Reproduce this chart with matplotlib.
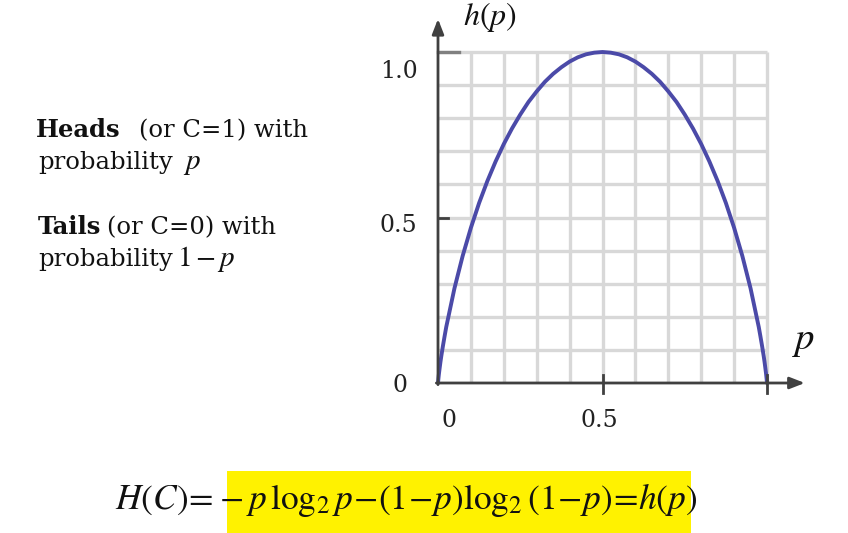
import numpy as np
import matplotlib
matplotlib.use("Agg")
import matplotlib.pyplot as plt
from matplotlib.patches import Rectangle

# ==========================================================
# DATA
# ==========================================================

p_vals = [0.0, 0.001, 0.0025, 0.005, 0.0075, 0.01, 0.015, 0.02, 0.025,
          0.05, 0.075, 0.1, 0.125, 0.15, 0.175, 0.2, 0.225, 0.25, 0.275,
          0.3, 0.325, 0.35, 0.375, 0.4, 0.425, 0.45, 0.475, 0.5,
          0.525, 0.55, 0.575, 0.6, 0.625, 0.65, 0.675, 0.7, 0.725,
          0.75, 0.775, 0.8, 0.825, 0.85, 0.875, 0.9, 0.925, 0.95,
          0.975, 0.98, 0.985, 0.99, 0.9925, 0.995, 0.9975, 0.999, 1.0]
h_vals = [0.0, 0.011, 0.025, 0.045, 0.064, 0.081, 0.112, 0.141, 0.169,
          0.286, 0.384, 0.469, 0.544, 0.610, 0.669, 0.722, 0.769, 0.811, 0.849,
          0.881, 0.910, 0.934, 0.954, 0.971, 0.984, 0.993, 0.998, 1.0,
          0.998, 0.993, 0.984, 0.971, 0.954, 0.934, 0.910, 0.881, 0.849,
          0.811, 0.769, 0.722, 0.669, 0.610, 0.544, 0.469, 0.384, 0.286,
          0.169, 0.141, 0.112, 0.081, 0.064, 0.045, 0.025, 0.011, 0.0]

grid_steps = [0.1, 0.2, 0.3, 0.4, 0.5, 0.6, 0.7, 0.8, 0.9, 1.0]

W, H = 848, 533
X0, X1 = 438, 767   # pixel x of p=0, p=1
Y0, Y1 = 383, 52    # pixel y of h=0, h=1

SERIF = "DejaVu Serif"
plt.rcParams["mathtext.fontset"] = "stix"

def fx(px):
    return px / W

def fy(py):
    return 1 - py / H

# ==========================================================
# FIGURE
# ==========================================================

fig = plt.figure(figsize=(W / 100, H / 100), dpi=100)
fig.patch.set_facecolor("white")
renderer = fig.canvas.get_renderer()

ax = fig.add_axes([fx(X0), fy(Y0), (X1 - X0) / W, (Y0 - Y1) / H])
ax.set_xlim(0, 1)
ax.set_ylim(0, 1)
ax.axis("off")

# grid
for g in grid_steps:
    ax.plot([g, g], [0, 1], color="#d8d8d8", lw=2.4, zorder=1,
            clip_on=False, solid_capstyle="butt")
    ax.plot([0, 1], [g, g], color="#d8d8d8", lw=2.4, zorder=1,
            clip_on=False, solid_capstyle="butt")

# curve
ax.plot(p_vals, h_vals, color="#4b4aa8", lw=2.8, zorder=4,
        clip_on=False, solid_capstyle="round", solid_joinstyle="round")

# axes with arrows
arrow = dict(arrowstyle="-|>,head_length=0.9,head_width=0.35",
             color="#404040", lw=2.0, shrinkA=0, shrinkB=0)
ax.annotate("", xy=(0, 1.1), xytext=(0, -0.005), arrowprops=arrow,
            zorder=5, annotation_clip=False)
ax.annotate("", xy=(1.115, 0), xytext=(-0.005, 0), arrowprops=arrow,
            zorder=5, annotation_clip=False)

# ticks
ax.plot([0, 0.065], [1, 1], color="#808080", lw=2.4, zorder=3, clip_on=False)
ax.plot([0, 0.03], [0.5, 0.5], color="#404040", lw=2.0, zorder=5, clip_on=False)
for t in [0.5, 1.0]:
    ax.plot([t, t], [-0.03, 0.025], color="#404040", lw=2.0, zorder=5,
            clip_on=False)

# tick labels
tick_kw = dict(fontsize=17, family=SERIF, color="#222222",
               ha="center", va="center")
ax.text(-0.12, 0.94, "1.0", **tick_kw)
ax.text(-0.12, 0.477, "0.5", **tick_kw)
ax.text(-0.115, -0.009, "0", **tick_kw)
ax.text(0.033, -0.112, "0", **tick_kw)
ax.text(0.49, -0.112, "0.5", **tick_kw)

# axis titles
ax.text(0.158, 1.105, r"$h(p)$", fontsize=23, ha="center", va="center",
        color="#111111")
ax.text(1.11, 0.13, r"$p$", fontsize=28, ha="center", va="center",
        color="#111111")

# ==========================================================
# LEFT TEXT (pieces chained left to right)
# ==========================================================

def line(px, py, parts):
    x = px
    for s, kw, gap in parts:
        t = fig.text(fx(x), fy(py), s, va="baseline", color="#111111", **kw)
        x = t.get_window_extent(renderer).x1 + gap

plain = dict(fontsize=17.5, family=SERIF)
bold = dict(fontsize=17.5, family=SERIF, fontweight="bold")
math = dict(fontsize=21)

line(36, 137, [("Heads", bold, 18), ("(or C=1) with", plain, 0)])
line(38, 169, [("probability", plain, 10), (r"$p$", math, 0)])
line(38, 234, [("Tails", bold, 6), ("(or C=0) with", plain, 0)])
line(38, 266, [("probability", plain, 4), (r"$\mathrm{1}-p$", math, 0)])

# ==========================================================
# FORMULA
# ==========================================================

fig.patches.append(Rectangle((fx(227), 0), (691 - 227) / W, (533 - 471) / H,
                             transform=fig.transFigure, facecolor="#fff200",
                             edgecolor="none", zorder=0))
fig.text(fx(115), fy(500),
         r"$H(C)\!=\!-p\,\log_2 p\!-\!(1\!-\!p)\log_2(1\!-\!p)\!=\!h(p)$",
         fontsize=25.5, color="#111111", va="center", zorder=2)

fig.savefig("out.png", dpi=100)
